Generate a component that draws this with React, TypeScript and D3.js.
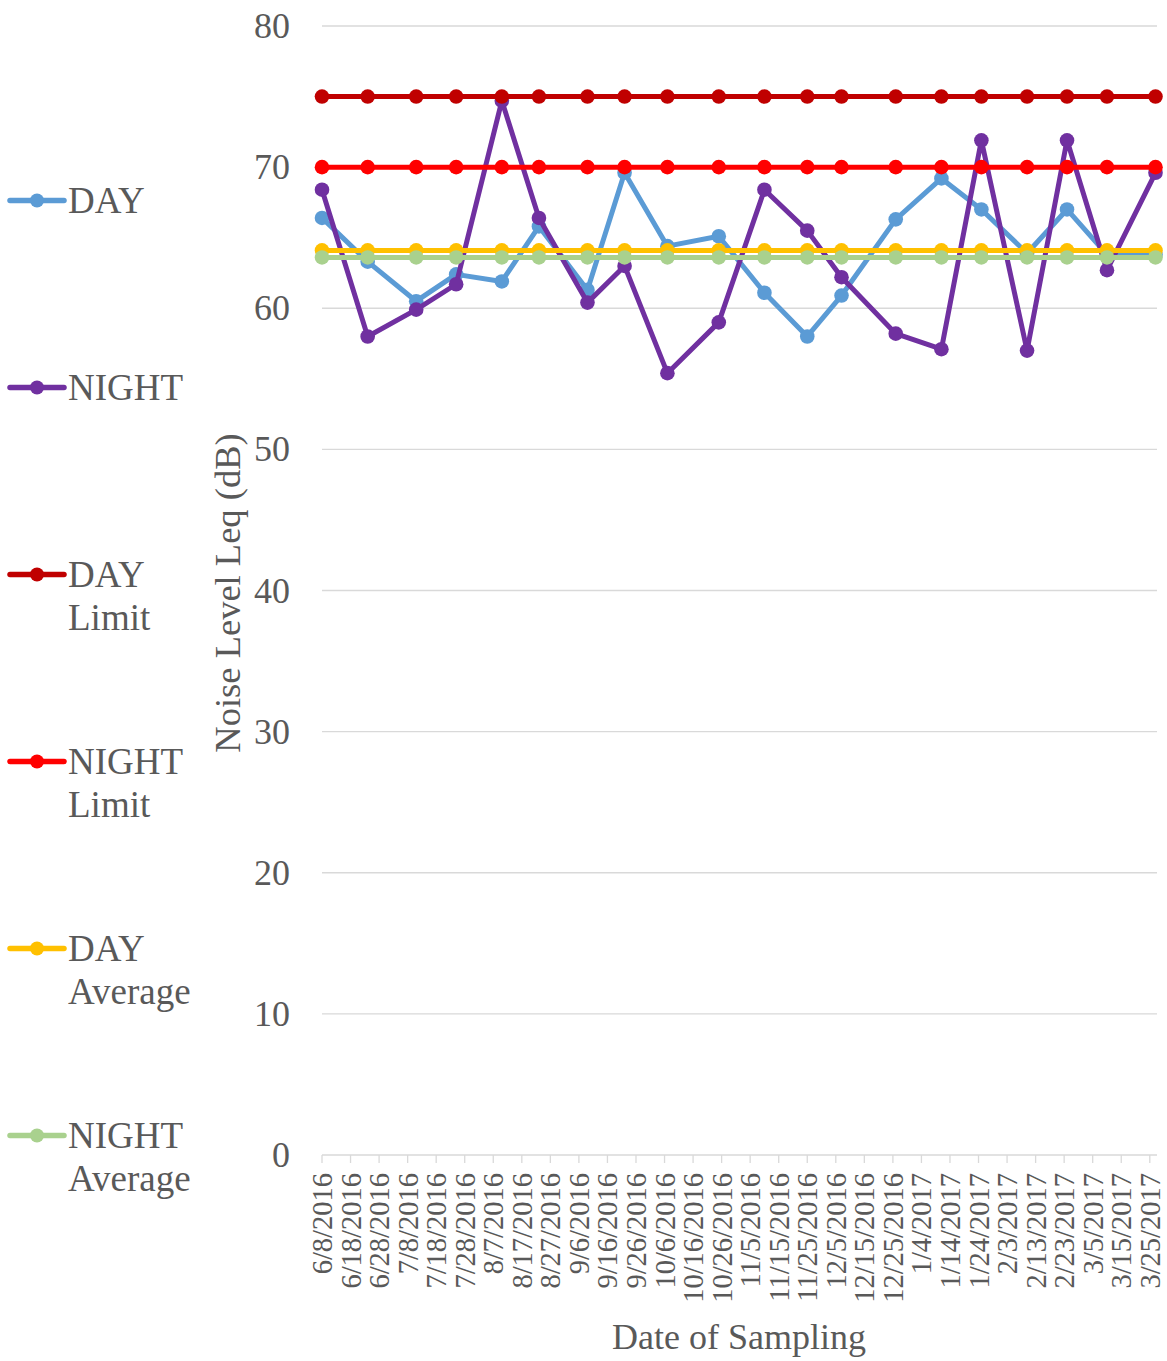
import React from "react";
import * as d3 from "d3";

const DATES = [
  "2016-06-08", "2016-06-24", "2016-07-11", "2016-07-25", "2016-08-10",
  "2016-08-23", "2016-09-09", "2016-09-22", "2016-10-07", "2016-10-25",
  "2016-11-10", "2016-11-25", "2016-12-07", "2016-12-26", "2017-01-11",
  "2017-01-25", "2017-02-10", "2017-02-24", "2017-03-10", "2017-03-27",
];
const DAY = [66.4, 63.3, 60.5, 62.4, 61.9, 65.8, 61.3, 69.6, 64.4, 65.1, 61.1, 58.0, 60.9, 66.3, 69.2, 67.0, 63.9, 67.0, 63.8, 63.8];
const NIGHT = [68.4, 58.0, 59.9, 61.7, 74.7, 66.4, 60.4, 63.0, 55.4, 59.0, 68.4, 65.5, 62.2, 58.2, 57.1, 71.9, 57.0, 71.9, 62.7, 69.6];
const DAY_LIMIT = [75, 75, 75, 75, 75, 75, 75, 75, 75, 75, 75, 75, 75, 75, 75, 75, 75, 75, 75, 75];
const NIGHT_LIMIT = [70, 70, 70, 70, 70, 70, 70, 70, 70, 70, 70, 70, 70, 70, 70, 70, 70, 70, 70, 70];
const DAY_AVERAGE = [64.1, 64.1, 64.1, 64.1, 64.1, 64.1, 64.1, 64.1, 64.1, 64.1, 64.1, 64.1, 64.1, 64.1, 64.1, 64.1, 64.1, 64.1, 64.1, 64.1];
const NIGHT_AVERAGE = [63.6, 63.6, 63.6, 63.6, 63.6, 63.6, 63.6, 63.6, 63.6, 63.6, 63.6, 63.6, 63.6, 63.6, 63.6, 63.6, 63.6, 63.6, 63.6, 63.6];
const Y_TICKS = [0, 10, 20, 30, 40, 50, 60, 70, 80];
const X_TICK_START = "2016-06-08";
const X_TICK_END = "2017-03-26";

const SERIES = [
  { name: ["DAY"], values: DAY, color: "#5B9BD5" },
  { name: ["NIGHT"], values: NIGHT, color: "#7030A0" },
  { name: ["DAY", "Limit"], values: DAY_LIMIT, color: "#C00000" },
  { name: ["NIGHT", "Limit"], values: NIGHT_LIMIT, color: "#FF0000" },
  { name: ["DAY", "Average"], values: DAY_AVERAGE, color: "#FFC000" },
  { name: ["NIGHT", "Average"], values: NIGHT_AVERAGE, color: "#A9D18E" },
];

const W = 1167;
const H = 1361;
const FONT = "'Liberation Serif', 'Times New Roman', serif";
const TEXT = "#595959";
const GRID = "#D9D9D9";

export default function App() {
  const parse = d3.utcParse("%Y-%m-%d");
  const dates = DATES.map((d) => parse(d) as Date);
  const x = d3.scaleUtc().domain([dates[0], dates[dates.length - 1]]).range([322, 1155.5]);
  const y = d3.scaleLinear().domain([0, 80]).range([1155, 26]);
  const xTicks = d3.utcDay.range(parse(X_TICK_START) as Date, parse(X_TICK_END) as Date, 10);
  const fmt = d3.utcFormat("%-m/%-d/%Y");
  const line = d3
    .line<number>()
    .x((_, i) => x(dates[i]))
    .y((v) => y(v));

  return (
    <svg width={W} height={H} style={{ position: "absolute", left: 0, top: 0, background: "#fff" }} fontFamily={FONT}>
      <rect x={0} y={0} width={W} height={H} fill="#fff" />
      {Y_TICKS.filter((t) => t > 0).map((t) => (
        <line key={t} x1={322} x2={1157} y1={y(t)} y2={y(t)} stroke={GRID} strokeWidth={1.3} />
      ))}
      {Y_TICKS.map((t) => (
        <text key={t} x={290} y={y(t) + 12} textAnchor="end" fontSize={36} fill={TEXT}>
          {t}
        </text>
      ))}
      <line x1={322} x2={1157} y1={y(0)} y2={y(0)} stroke={GRID} strokeWidth={1.5} />
      {xTicks.map((t, i) => (
        <g key={i}>
          <line x1={x(t)} x2={x(t)} y1={y(0)} y2={y(0) + 8} stroke={GRID} strokeWidth={1.3} />
          <text
            transform={`translate(${x(t) + 10},1173) rotate(-90)`}
            textAnchor="end"
            fontSize={28.5}
            fill={TEXT}
          >
            {fmt(t)}
          </text>
        </g>
      ))}
      <text x={739} y={1349} textAnchor="middle" fontSize={36} fill={TEXT}>
        Date of Sampling
      </text>
      <text transform="translate(240,593) rotate(-90)" textAnchor="middle" fontSize={36.5} fill={TEXT}>
        Noise Level Leq (dB)
      </text>
      {SERIES.map((s, si) => (
        <g key={si}>
          <path d={line(s.values) || ""} fill="none" stroke={s.color} strokeWidth={5} strokeLinejoin="round" strokeLinecap="round" />
          {s.values.map((v, i) => (
            <circle key={i} cx={x(dates[i])} cy={y(v)} r={7.3} fill={s.color} />
          ))}
        </g>
      ))}
      {SERIES.map((s, si) => {
        const base = 213 + si * 187;
        return (
          <g key={si}>
            <line x1={10} x2={64} y1={base - 12.5} y2={base - 12.5} stroke={s.color} strokeWidth={5.5} strokeLinecap="round" />
            <circle cx={37} cy={base - 12.5} r={7} fill={s.color} />
            {s.name.map((n, ni) => (
              <text key={ni} x={68} y={base + ni * 42.5} fontSize={37} fill={TEXT}>
                {n}
              </text>
            ))}
          </g>
        );
      })}
    </svg>
  );
}
